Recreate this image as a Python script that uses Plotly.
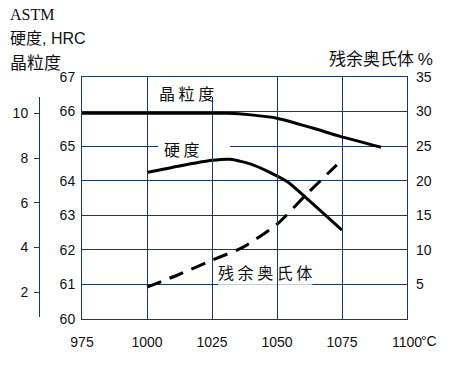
import plotly.graph_objects as go

# ---- data ----
grain_x = [975, 1000, 1025, 1031, 1040, 1050, 1064, 1074, 1090]
grain_astm = [10, 10, 10, 10, 9.93, 9.78, 9.33, 8.98, 8.48]

hard_x = [1000, 1012, 1025, 1032, 1040, 1047, 1054, 1061, 1075]
hard_hrc = [64.24, 64.42, 64.59, 64.62, 64.48, 64.25, 63.97, 63.52, 62.57]

aust_x = [1000, 1012, 1025, 1037, 1050, 1061, 1073]
aust_pct = [4.6, 6.4, 8.5, 10.4, 13.7, 17.9, 22.3]

x_ticks = [975, 1000, 1025, 1050, 1075, 1100]
x_ticktext = ["975", "1000", "1025", "1050", "1075", "1100"]
hrc_ticks = [60, 61, 62, 63, 64, 65, 66, 67]
aust_ticks = [5, 10, 15, 20, 25, 30, 35]
astm_ticks = [2, 4, 6, 8, 10]

# ---- layout geometry (pixels) ----
W, H = 454, 369
ML, MR, MT, MB = 2, 47, 77, 50
PW = W - ML - MR
PH = H - MT - MB
def px(x):
    return (x - ML) / PW
def py(y):
    return (H - MB - y) / PH

GRID = "#1d3960"
NUM_FONT = dict(family="Liberation Sans, Arial, sans-serif", size=14, color="#111111")
CJK = "Noto Sans CJK SC"

fig = go.Figure()

fig.add_trace(go.Scatter(x=grain_x, y=grain_astm, yaxis="y3", mode="lines",
                         line=dict(color="black", width=3, shape="spline", smoothing=0.6),
                         showlegend=False))
fig.add_trace(go.Scatter(x=hard_x, y=hard_hrc, yaxis="y", mode="lines",
                         line=dict(color="black", width=3, shape="spline", smoothing=0.6),
                         showlegend=False))
fig.add_trace(go.Scatter(x=aust_x, y=aust_pct, yaxis="y2", mode="lines",
                         line=dict(color="black", width=3, dash="15px,9px", shape="spline",
                                   smoothing=0.6), showlegend=False))

fig.update_layout(
    width=W, height=H,
    margin=dict(l=ML, r=MR, t=MT, b=MB, autoexpand=False),
    paper_bgcolor="white", plot_bgcolor="rgba(0,0,0,0)",
    xaxis=dict(domain=[px(82), 1], range=[975, 1100], tickvals=x_ticks, ticktext=x_ticktext,
               showgrid=True, gridcolor=GRID, gridwidth=1, showline=True, linecolor=GRID,
               linewidth=1, mirror=True, ticks="", zeroline=False, tickfont=NUM_FONT,
               ticklabelstandoff=10, automargin=False),
    yaxis=dict(range=[60, 67], tickvals=hrc_ticks, showgrid=True, gridcolor=GRID, gridwidth=1,
               showline=True, linecolor=GRID, linewidth=1, mirror=True, ticks="",
               zeroline=False, tickfont=NUM_FONT, ticklabelstandoff=3, automargin=False),
    yaxis2=dict(range=[0, 35], tickvals=aust_ticks, overlaying="y", side="right", anchor="x",
                showgrid=False, showline=False, ticks="", zeroline=False, tickfont=NUM_FONT,
                ticklabelstandoff=8, automargin=False),
    yaxis3=dict(range=[0.896, 10.742], domain=[py(317), py(96.7)], tickvals=astm_ticks,
                anchor="free", position=px(39), side="left", showgrid=False, showline=True,
                linecolor=GRID, linewidth=1, ticks="outside", ticklen=5, tickcolor=GRID,
                zeroline=False, tickfont=NUM_FONT, ticklabelstandoff=3, automargin=False),
)

# white boxes behind curve labels (between grid and traces)
for x0, x1, y0, y1 in [(1003.2, 1026.7, 66.3, 67.0), (1004.3, 1032.0, 64.68, 65.17),
                       (1027.4, 1063.6, 60.99, 61.62)]:
    fig.add_shape(type="rect", xref="x", yref="y", x0=x0, x1=x1, y0=y0, y1=y1,
                  fillcolor="white", line=dict(width=0), layer="between")

lab_font = dict(family=CJK, size=16, color="#111111")
fig.add_annotation(x=1015.1, y=66.53, xref="x", yref="y", text="晶 粒 度", showarrow=False, font=lab_font)
fig.add_annotation(x=1013.6, y=64.93, xref="x", yref="y", text="硬 度", showarrow=False, font=lab_font)
fig.add_annotation(x=1045.5, y=61.36, xref="x", yref="y", text="残 余 奥 氏 体", showarrow=False, font=lab_font)

# axis titles
fig.add_annotation(x=px(8), y=py(15), xref="paper", yref="paper", xanchor="left", yanchor="middle",
                   text="ASTM", showarrow=False,
                   font=dict(family="Liberation Serif, serif", size=16, color="#111111"))
fig.add_annotation(x=px(8), y=py(37), xref="paper", yref="paper", xanchor="left", yanchor="middle",
                   text="硬度<span style='font-family:Liberation Sans'>, HRC</span>", showarrow=False,
                   font=dict(family=CJK, size=16, color="#111111"))
fig.add_annotation(x=px(8), y=py(61), xref="paper", yref="paper", xanchor="left", yanchor="middle",
                   text="晶粒度", showarrow=False, font=dict(family=CJK, size=17, color="#111111"))
fig.add_annotation(x=px(327), y=py(57), xref="paper", yref="paper", xanchor="left", yanchor="middle",
                   text="残余奥氏体 <span style='font-family:Liberation Sans'>%</span>", showarrow=False,
                   font=dict(family=CJK, size=17, color="#111111"))
fig.add_annotation(x=px(419), y=py(341), xref="paper", yref="paper", xanchor="left", yanchor="middle",
                   text="°C", showarrow=False, font=NUM_FONT)

fig.write_html("out.html", config={"displayModeBar": False},
               post_script="document.body.style.margin='0px';")
